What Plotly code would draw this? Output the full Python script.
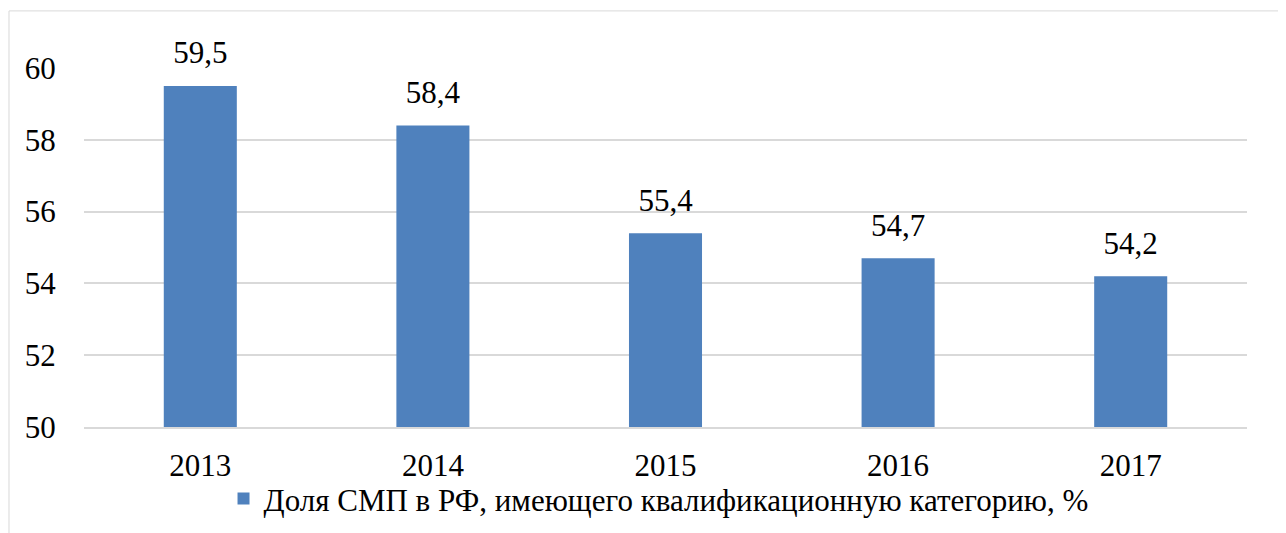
import plotly.graph_objects as go

years = ["2013", "2014", "2015", "2016", "2017"]
values = [59.5, 58.4, 55.4, 54.7, 54.2]
series_name = "Доля СМП в РФ, имеющего квалификационную категорию, %"
y_ticks = [50, 52, 54, 56, 58, 60]

labels = [f"{v:.1f}".replace(".", ",") for v in values]
FONT = "Times New Roman"
LEG_FONT = "Liberation Serif"

fig = go.Figure()
fig.add_trace(go.Bar(
    x=years, y=values, name=series_name,
    marker=dict(color="#4F81BD", line=dict(width=0)),
    showlegend=True,
))
fig.add_trace(go.Scatter(
    x=years, y=values, mode="markers+text", text=labels, textposition="top center",
    marker=dict(size=22, color="rgba(0,0,0,0)"), cliponaxis=False,
    textfont=dict(family=FONT, size=31, color="black"),
    showlegend=False, hoverinfo="skip",
))

fig.add_shape(type="rect", xref="paper", yref="paper",
              x0=-0.0645, x1=1.2, y0=-0.6, y1=1.159,
              line=dict(color="#D9D9D9", width=1))

fig.update_layout(
    width=1286, height=533,
    margin=dict(l=76, r=47, t=60, b=114),
    paper_bgcolor="white", plot_bgcolor="white",
    font=dict(family=FONT, size=31, color="black"),
    bargap=0.686,
    xaxis=dict(type="category", showgrid=False, showline=True, linecolor="#D9D9D9", linewidth=1.5,
               ticks="outside", ticklen=10, tickcolor="rgba(0,0,0,0)"),
    yaxis=dict(range=[50, 60], tickvals=y_ticks, showgrid=True, gridcolor="#D9D9D9",
               gridwidth=1.5, zeroline=False, showline=False,
               ticks="outside", ticklen=21, tickcolor="rgba(0,0,0,0)"),
    legend=dict(orientation="h", x=0.494, xanchor="center", y=-0.2, yanchor="middle",
                font=dict(family=LEG_FONT, size=31), bgcolor="rgba(0,0,0,0)"),
)

fig.write_html("out.html")
